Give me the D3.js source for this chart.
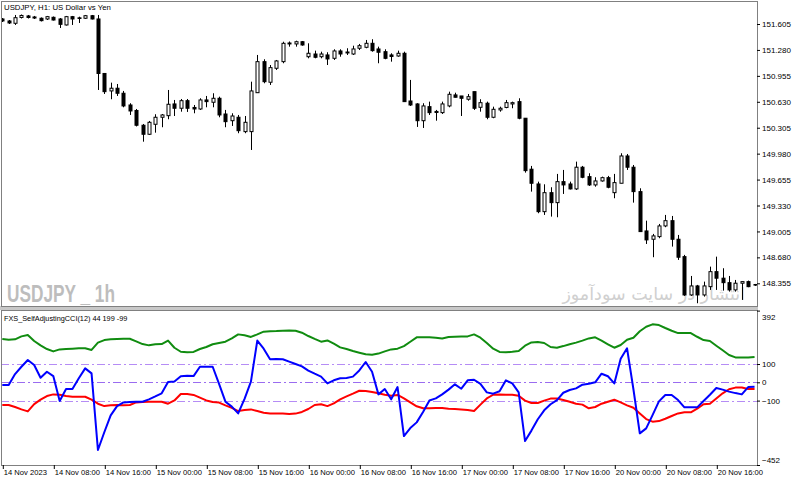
<!DOCTYPE html>
<html>
<head>
<meta charset="utf-8">
<script src="https://cdn.jsdelivr.net/npm/d3@7"></script>
<style>
body { margin: 0; background: #fff; }
svg text { font-family: "Liberation Sans", Arial, sans-serif; }
</style>
</head>
<body>
<svg id="chart" width="800" height="481"></svg>
<script>
// USDJPY H1 candles, 14 Nov 00:00 .. 20 Nov 22:00
var opens = [151.668,151.643,151.614,151.687,151.706,151.693,151.677,151.668,151.689,151.668,
151.593,151.697,151.682,151.677,151.709,151.668,150.985,150.766,150.800,150.737,
150.590,150.521,150.336,150.223,150.348,150.436,150.456,150.603,150.549,150.644,
150.559,150.540,150.653,150.624,150.674,150.477,150.393,150.436,150.256,150.256,
150.744,151.133,150.875,151.050,151.133,151.355,151.355,151.383,151.195,151.229,
151.195,151.217,151.175,151.267,151.242,151.229,151.301,151.313,151.363,151.292,
151.258,151.217,151.204,151.238,150.640,150.603,150.393,150.569,150.496,150.494,
150.578,150.716,150.703,150.662,150.757,150.561,150.612,150.436,150.528,150.559,
150.603,150.632,150.424,149.785,149.600,149.253,149.491,149.366,149.629,149.600,
149.538,149.810,149.692,149.588,149.638,149.679,149.491,149.609,149.951,149.810,
149.504,149.011,148.907,148.940,149.074,149.140,148.907,148.689,148.209,148.322,
148.209,148.313,148.501,148.419,148.363,148.272,148.356,148.376,148.340];
var highs = [151.680,151.655,151.718,151.724,151.718,151.706,151.687,151.706,151.699,151.680,
151.706,151.706,151.697,151.718,151.718,151.718,150.991,150.870,150.853,150.766,
150.612,150.540,150.352,150.390,150.474,150.477,150.778,150.653,150.665,150.665,
150.590,150.674,150.703,150.737,150.694,150.528,150.486,150.465,150.452,150.882,
151.217,151.163,151.091,151.154,151.383,151.386,151.396,151.392,151.363,151.271,
151.258,151.251,151.288,151.288,151.301,151.333,151.355,151.405,151.414,151.321,
151.288,151.238,151.271,151.258,150.904,150.612,150.612,150.632,150.528,150.632,
150.757,150.744,150.703,150.728,150.757,150.662,150.632,150.569,150.569,150.653,
150.632,150.674,150.427,149.826,149.629,149.596,149.559,149.726,149.776,149.629,
149.880,149.826,149.734,149.684,149.692,149.701,149.726,149.985,149.976,149.838,
149.546,149.140,148.974,149.099,149.212,149.199,148.961,148.711,148.447,148.335,
148.376,148.564,148.689,148.544,148.447,148.397,148.376,148.389,148.347];
var lows = [151.630,151.605,151.593,151.674,151.674,151.668,151.637,151.655,151.649,151.555,
151.586,151.593,151.618,151.668,151.662,150.778,150.728,150.662,150.703,150.561,
150.465,150.321,150.130,150.214,150.243,150.311,150.411,150.452,150.506,150.503,
150.486,150.528,150.561,150.561,150.436,150.311,150.327,150.236,150.236,150.026,
150.741,150.862,150.841,151.029,151.113,151.321,151.321,151.333,151.175,151.175,
151.175,151.091,151.154,151.195,151.217,151.217,151.279,151.301,151.258,151.113,
151.163,151.133,151.195,150.628,150.578,150.315,150.302,150.465,150.393,150.477,
150.561,150.684,150.452,150.644,150.528,150.506,150.411,150.424,150.506,150.549,
150.549,150.411,149.742,149.504,149.233,149.212,149.191,149.183,149.475,149.531,
149.525,149.672,149.575,149.566,149.629,149.546,149.421,149.609,149.776,149.366,
148.999,148.848,148.682,148.920,149.058,148.815,148.648,148.197,148.197,148.105,
148.188,148.272,148.272,148.263,148.251,148.251,148.147,148.306,148.322];
var closes = [151.643,151.618,151.684,151.712,151.687,151.680,151.647,151.697,151.655,151.601,
151.697,151.668,151.676,151.709,151.668,150.985,150.757,150.800,150.737,150.578,
150.515,150.336,150.223,150.373,150.436,150.465,150.599,150.549,150.644,150.549,
150.540,150.653,150.632,150.674,150.465,150.381,150.452,150.268,150.373,150.766,
151.133,150.882,151.058,151.142,151.363,151.367,151.383,151.342,151.238,151.188,
151.229,151.167,151.267,151.229,151.254,151.292,151.333,151.363,151.271,151.251,
151.175,151.198,151.238,150.632,150.590,150.393,150.578,150.494,150.509,150.603,
150.724,150.687,150.674,150.694,150.549,150.619,150.436,150.536,150.549,150.619,
150.619,150.424,149.767,149.609,149.253,149.491,149.366,149.629,149.588,149.538,
149.810,149.684,149.588,149.638,149.679,149.559,149.617,149.951,149.810,149.504,
149.003,148.899,148.949,149.074,149.140,148.907,148.682,148.209,148.322,148.209,
148.322,148.501,148.419,148.363,148.272,148.356,148.376,148.313,148.335];

// FXS_SelfAdjustingCCI buffers
var greenLine = [237,233,235,251,259,226,202,182,169,180,
182,184,186,186,177,217,231,235,237,238,
238,224,209,202,208,209,228,189,167,164,
166,182,193,208,215,222,240,262,257,248,
262,277,279,280,282,283,282,271,253,237,
222,229,211,191,182,171,162,153,151,157,
169,180,184,198,222,246,246,246,244,240,
248,249,250,251,262,244,215,184,166,164,
167,171,200,218,220,215,193,189,198,208,
217,228,240,246,228,208,189,204,233,244,
279,304,317,313,297,282,269,269,269,249,
231,226,200,175,149,136,135,135,138];
var blueLine = [-15,-15,45,85,122,95,25,58,34,-102,
-37,-37,22,76,49,-370,-273,-181,-130,-110,
-108,-106,-106,-93,-77,-60,2,4,33,36,
34,85,85,85,-8,-106,-133,-170,-91,4,
228,184,126,127,126,113,100,87,64,47,
31,-6,11,22,24,31,65,111,58,-66,
-37,-93,-26,-294,-250,-219,-162,-99,-88,-66,
-40,-11,-35,11,14,-9,-55,-62,-49,11,
-6,-55,-321,-264,-202,-153,-120,-97,-57,-42,
-33,-13,-8,0,47,33,-6,129,186,-38,
-279,-252,-179,-104,-69,-69,-97,-137,-137,-137,
-102,-68,-31,-40,-51,-59,-66,-26,-24];
var redLine = [-124,-124,-135,-148,-159,-119,-95,-75,-66,-68,
-75,-79,-79,-79,-95,-117,-130,-126,-124,-126,
-124,-110,-108,-106,-106,-106,-117,-99,-64,-64,
-69,-84,-99,-108,-111,-126,-140,-157,-151,-148,
-157,-166,-170,-170,-171,-173,-171,-162,-146,-124,
-120,-130,-115,-93,-77,-62,-46,-48,-53,-60,
-68,-73,-69,-88,-110,-131,-142,-142,-140,-140,
-144,-146,-148,-151,-157,-122,-88,-68,-66,-68,
-68,-73,-100,-113,-113,-100,-89,-89,-97,-106,
-117,-122,-142,-135,-117,-106,-95,-110,-126,-139,
-170,-201,-215,-212,-199,-184,-170,-164,-164,-144,
-120,-117,-88,-60,-38,-29,-28,-37,-37];

var days = ["14 Nov", "15 Nov", "16 Nov", "17 Nov", "20 Nov"];
var timeLabels = ["14 Nov 2023", "14 Nov 08:00", "14 Nov 16:00", "15 Nov 00:00", "15 Nov 08:00",
  "15 Nov 16:00", "16 Nov 00:00", "16 Nov 08:00", "16 Nov 16:00", "17 Nov 00:00",
  "17 Nov 08:00", "17 Nov 16:00", "20 Nov 00:00", "20 Nov 08:00", "20 Nov 16:00"];
var priceTicks = [151.605, 151.280, 150.955, 150.630, 150.305, 149.980, 149.655, 149.330, 149.005, 148.680, 148.355];
var cciTicks = [392, 100, 0, -100, -452];
var cciLevels = [100, 0, -100];

// bar times (one per candle)
var barTimes = [];
days.forEach(function (d) {
    for (var h = 0; h < 24; h++) {
        if (barTimes.length < opens.length) barTimes.push(d + " " + (h < 10 ? "0" : "") + h + ":00");
    }
});

var svg = d3.select("#chart");
var paneL = 1, paneR = 757;
var mainTop = 1, mainBot = 306;
var subTop = 310, subBot = 465;

var x = d3.scaleLinear().domain([0, 112]).range([2.3, 716.3]);
var y = d3.scaleLinear().domain([148.355, 151.605]).range([283.3, 24]);
var yc = d3.scaleLinear().domain([-452, 392]).range([subBot, subTop + 0.6]);

var defs = svg.append("defs");
defs.append("clipPath").attr("id", "clipMain").append("rect")
    .attr("x", paneL + 1).attr("y", mainTop + 1).attr("width", paneR - paneL - 1).attr("height", mainBot - mainTop - 1);
defs.append("clipPath").attr("id", "clipSub").append("rect")
    .attr("x", paneL + 1).attr("y", subTop + 1).attr("width", paneR - paneL - 1).attr("height", subBot - subTop - 1);

// pane separator
svg.append("rect").attr("x", 0).attr("y", mainBot).attr("width", paneR + 1).attr("height", subTop - mainBot)
    .attr("fill", "#c8c8c8");

// frames
[[mainTop, mainBot], [subTop, subBot]].forEach(function (p) {
    svg.append("rect").attr("x", paneL + 0.5).attr("y", p[0] + 0.5)
        .attr("width", paneR - paneL).attr("height", p[1] - p[0])
        .attr("fill", "#fff").attr("stroke", "#808080").attr("stroke-width", 1);
});

// watermarks
var gMain = svg.append("g").attr("clip-path", "url(#clipMain)");
gMain.append("text").attr("x", 7).attr("y", 301.5)
    .attr("font-size", 23).attr("font-weight", "bold").attr("fill", "#bdbdbd")
    .attr("textLength", 108).attr("lengthAdjust", "spacingAndGlyphs")
    .text("USDJPY _ 1h");
gMain.append("text").attr("x", 745).attr("y", 299.5).attr("text-anchor", "end")
    .attr("font-size", 17.5).attr("fill", "#d0d0d0")
    .style("font-family", "'DejaVu Sans', 'Noto Sans', sans-serif")
    .text("انتشار در سایت سودآموز");

// candles
var candles = gMain.selectAll("g.candle").data(opens.map(function (o, i) {
    return { i: i, o: o, h: highs[i], l: lows[i], c: closes[i] };
})).enter().append("g").attr("class", "candle");

candles.append("line")
    .attr("x1", function (d) { return Math.round(x(d.i)) + 0.5; })
    .attr("x2", function (d) { return Math.round(x(d.i)) + 0.5; })
    .attr("y1", function (d) { return y(d.h); })
    .attr("y2", function (d) { return y(d.l); })
    .attr("stroke", "#000").attr("stroke-width", 1);

candles.append("rect")
    .attr("x", function (d) { return Math.round(x(d.i)) - 1; })
    .attr("y", function (d) { return y(Math.max(d.o, d.c)); })
    .attr("width", 3)
    .attr("height", function (d) { return Math.max(0.6, Math.abs(y(d.o) - y(d.c))); })
    .attr("fill", function (d) { return d.c >= d.o ? "#fff" : "#000"; })
    .attr("stroke", "#000").attr("stroke-width", 1);

// title
svg.append("text").attr("x", 4).attr("y", 10).attr("font-size", 7.8).attr("fill", "#000")
    .text("USDJPY, H1:  US Dollar vs Yen");

// price axis
var axP = svg.append("g").attr("transform", "translate(" + paneR + ",0)")
    .call(d3.axisRight(y).tickValues(priceTicks).tickSize(3).tickPadding(2)
        .tickFormat(function (d) { return d.toFixed(3); }));
axP.select(".domain").remove();
axP.selectAll("text").attr("font-size", 8).attr("fill", "#000").style("font-family", "'Liberation Sans', Arial, sans-serif");
axP.selectAll("line").attr("stroke", "#000");

// indicator pane
var gSub = svg.append("g").attr("clip-path", "url(#clipSub)");
gSub.selectAll("line.level").data(cciLevels).enter().append("line")
    .attr("class", "level")
    .attr("x1", paneL).attr("x2", paneR)
    .attr("y1", function (d) { return Math.round(yc(d)) + 0.5; })
    .attr("y2", function (d) { return Math.round(yc(d)) + 0.5; })
    .attr("stroke", function (d) { return d === 0 ? "#9a6cf0" : "#b58cf5"; })
    .attr("stroke-width", 1.2)
    .attr("stroke-dasharray", "8,3,2,3");

var line = d3.line().x(function (d, i) { return x(i); }).y(function (d) { return yc(d); });
[[greenLine, "#108c10"], [redLine, "#ff0000"], [blueLine, "#0000ff"]].forEach(function (s) {
    gSub.append("path").datum(s[0]).attr("d", line)
        .attr("fill", "none").attr("stroke", s[1]).attr("stroke-width", 2)
        .attr("stroke-linejoin", "round");
});

svg.append("text").attr("x", 4).attr("y", 320.5).attr("font-size", 7.3).attr("fill", "#000")
    .text("FXS_SelfAdjustingCCI(12) 44 199 -99");

var axC = svg.append("g").attr("transform", "translate(" + paneR + ",0)")
    .call(d3.axisRight(yc).tickValues(cciTicks).tickSize(3).tickPadding(2));
axC.select(".domain").remove();
axC.selectAll("text").attr("font-size", 8).attr("fill", "#000").style("font-family", "'Liberation Sans', Arial, sans-serif");
axC.selectAll("line").attr("stroke", "#000");
// keep end labels inside the pane like the terminal does
axC.selectAll(".tick").filter(function (d) { return d === 392; }).select("text").attr("dy", "1.1em");
axC.selectAll(".tick").filter(function (d) { return d === -452; }).select("text").attr("dy", "-0.3em");

// time axis
var tickIdx = timeLabels.map(function (t, k) {
    return k === 0 ? 0 : barTimes.indexOf(t);
});
var axT = svg.append("g").attr("transform", "translate(0," + subBot + ")")
    .call(d3.axisBottom(x).tickValues(tickIdx).tickSize(4).tickPadding(1)
        .tickFormat(function (d, k) { return timeLabels[k]; }));
axT.select(".domain").remove();
axT.selectAll("line").attr("stroke", "#000")
    .attr("transform", "translate(0.5,0)");
axT.selectAll("text").attr("font-size", 7.6).attr("fill", "#000")
    .attr("text-anchor", "start").attr("dx", 1)
    .style("font-family", "'Liberation Sans', Arial, sans-serif");
</script>
</body>
</html>
